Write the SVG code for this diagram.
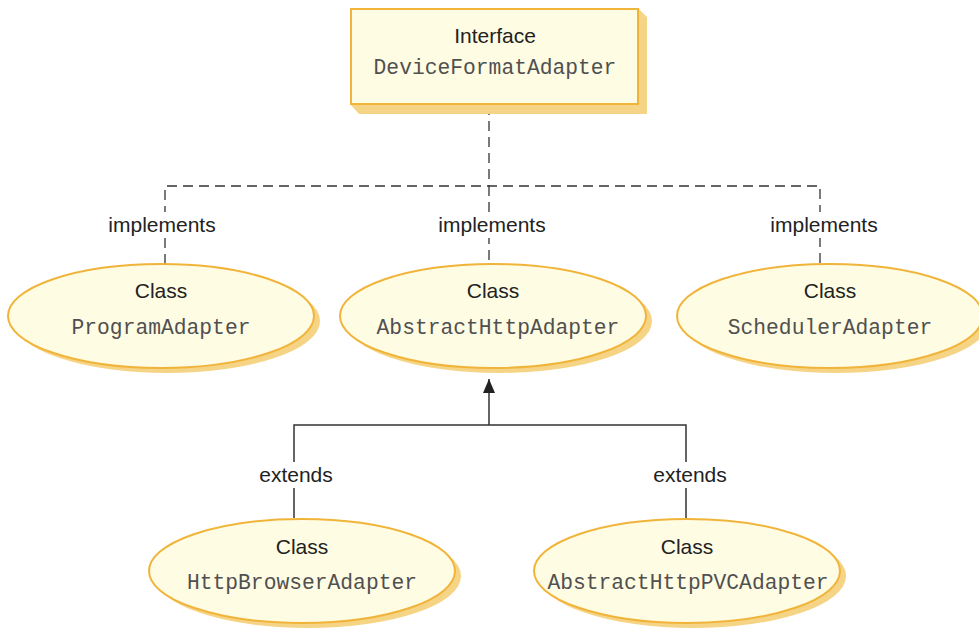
<svg xmlns="http://www.w3.org/2000/svg" width="979" height="629" viewBox="0 0 979 629">
  <defs>
    <marker id="tri" viewBox="0 0 14 12" refX="14" refY="6" markerWidth="14" markerHeight="12" markerUnits="userSpaceOnUse" orient="auto">
      <path d="M0,0 L14,6 L0,12 Z" fill="#222"/>
    </marker>
  </defs>
  <style>
    .shadow { fill: #f6d486; stroke: none; }
    .shape { fill: #fffce4; stroke: #f1b43a; stroke-width: 2; }
    .kind { font-family: "Liberation Sans", Arial, sans-serif; font-size: 21px; fill: #222; text-anchor: middle; }
    .name { font-family: "Liberation Mono", "Courier New", monospace; font-size: 21.3px; fill: #505050; text-anchor: middle; }
    .label { font-family: "Liberation Sans", Arial, sans-serif; font-size: 21px; fill: #222; text-anchor: middle; }
    .dash { fill: none; stroke: #333; stroke-width: 1.3; stroke-dasharray: 10 6; }
    .solid { fill: none; stroke: #333; stroke-width: 1.5; }
    .gap { fill: #fff; }
  </style>

  <!-- connectors -->
  <g id="connectors">
    <path class="dash" d="M489,105 V186 M165,264 V186 H820 V264 M489,186 V264"/>
    <path class="solid" d="M294,518 V425 H686 V518 M489,425 V379" marker-end="url(#tri)"/>
    <rect class="gap" x="102" y="212" width="120" height="26"/>
    <rect class="gap" x="432" y="212" width="120" height="26"/>
    <rect class="gap" x="764" y="212" width="120" height="26"/>
    <rect class="gap" x="254" y="462" width="84" height="26"/>
    <rect class="gap" x="648" y="462" width="84" height="26"/>
    <text class="label" x="162" y="232">implements</text>
    <text class="label" x="492" y="232">implements</text>
    <text class="label" x="824" y="232">implements</text>
    <text class="label" x="296" y="482">extends</text>
    <text class="label" x="690" y="482">extends</text>
  </g>

  <!-- interface node -->
  <g id="DeviceFormatAdapter">
    <polygon class="shadow" points="351,105 359,114 647,114 647,17 638,8 638,105"/>
    <rect class="shape" x="351" y="9" width="287" height="95"/>
    <text class="kind" x="495" y="43">Interface</text>
    <text class="name" x="495" y="74">DeviceFormatAdapter</text>
  </g>

  <!-- class nodes -->
  <g id="ProgramAdapter">
    <ellipse class="shadow" cx="167" cy="321" rx="153" ry="52"/>
    <ellipse class="shape" cx="161" cy="316" rx="153" ry="52"/>
    <text class="kind" x="161" y="298">Class</text>
    <text class="name" x="161" y="334">ProgramAdapter</text>
  </g>

  <g id="AbstractHttpAdapter">
    <ellipse class="shadow" cx="499" cy="321" rx="153" ry="52"/>
    <ellipse class="shape" cx="493" cy="316" rx="153" ry="52"/>
    <text class="kind" x="493" y="298">Class</text>
    <text class="name" x="498" y="334">AbstractHttpAdapter</text>
  </g>

  <g id="SchedulerAdapter">
    <ellipse class="shadow" cx="836" cy="321" rx="153" ry="52"/>
    <ellipse class="shape" cx="830" cy="316" rx="153" ry="52"/>
    <text class="kind" x="830" y="298">Class</text>
    <text class="name" x="830" y="334">SchedulerAdapter</text>
  </g>

  <g id="HttpBrowserAdapter">
    <ellipse class="shadow" cx="308" cy="576" rx="153" ry="52"/>
    <ellipse class="shape" cx="302" cy="571" rx="153" ry="52"/>
    <text class="kind" x="302" y="554">Class</text>
    <text class="name" x="302" y="589">HttpBrowserAdapter</text>
  </g>

  <g id="AbstractHttpPVCAdapter">
    <ellipse class="shadow" cx="693" cy="576" rx="153" ry="52"/>
    <ellipse class="shape" cx="687" cy="571" rx="153" ry="52"/>
    <text class="kind" x="687" y="554">Class</text>
    <text class="name" x="688" y="589">AbstractHttpPVCAdapter</text>
  </g>
</svg>
